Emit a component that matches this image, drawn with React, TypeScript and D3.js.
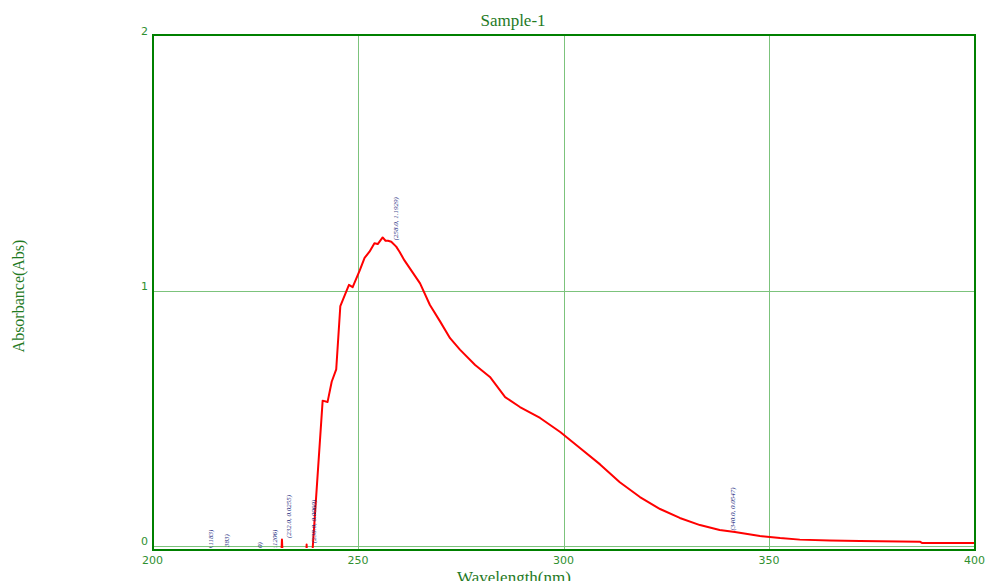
import React from "react";
import * as d3 from "d3";

const wavelength = [200, 231.3, 231.5, 231.7, 237.4, 237.5, 237.6, 238.8, 241.4, 242.6, 243.6, 244.7, 245.7, 247.8, 248.7, 250.4, 251.6, 252.8, 254.0, 254.8, 256.0, 256.7, 257.3, 258.1, 259.3, 260.1, 261.3, 263.2, 265.1, 267.5, 270.0, 272.4, 274.8, 278.5, 282.1, 285.8, 289.4, 294.3, 299.2, 304.0, 308.9, 313.7, 318.6, 323.5, 328.3, 333.2, 338.0, 341.7, 347.8, 352.7, 357.5, 364.8, 372.1, 386.7, 387.2, 400];
const absorbance = [-0.05, -0.05, 0.0255, -0.05, -0.05, 0.006, -0.05, -0.05, 0.57, 0.565, 0.644, 0.693, 0.941, 1.024, 1.015, 1.08, 1.13, 1.154, 1.187, 1.184, 1.21, 1.197, 1.197, 1.193, 1.174, 1.154, 1.12, 1.075, 1.03, 0.945, 0.88, 0.815, 0.77, 0.71, 0.663, 0.584, 0.545, 0.502, 0.447, 0.384, 0.32, 0.25, 0.192, 0.145, 0.11, 0.082, 0.063, 0.055, 0.039, 0.031, 0.025, 0.022, 0.02, 0.017, 0.012, 0.012];

const peakNm = [213.0, 217.0, 225.0, 228.5, 232.0, 238.0, 258.0, 340.0];
const peakVal = [-0.1183, -0.1383, -0.169, -0.1206, 0.0255, 0.006, 1.1929, 0.0547];
const peakText = ["(213.0, -0.1183)", "(217.0, -0.1383)", "(225.0, -0.1690)", "(228.5, -0.1206)", "(232.0, 0.0255)", "(238.0, 0.0060)", "(258.0, 1.1929)", "(340.0, 0.0547)"];

const xTicks = [200, 250, 300, 350, 400];
const yTicks = [0, 1, 2];
const xGrid = [250, 300, 350];
const yGrid = [0, 1];

const W = 987;
const H = 581;

export default function App() {
  const x = d3.scaleLinear().domain([200, 400]).range([152.5, 974.5]);
  const y = d3.scaleLinear().domain([0, 2]).range([546, 36]);
  const line = d3
    .line<number>()
    .x((_, i) => x(wavelength[i]))
    .y((d) => y(d));
  const frameGreen = "#008000";
  const textGreen = "#2f8f2f";
  const gridGreen = "#7cc37c";
  return (
    <svg
      width={W}
      height={H}
      style={{ position: "absolute", left: 0, top: 0, background: "#fff" }}
    >
      <defs>
        <clipPath id="plotClip">
          <rect x={153} y={36} width={822} height={512} />
        </clipPath>
      </defs>
      <rect x={0} y={0} width={W} height={H} fill="#fff" />
      <g>
        {xGrid.map((v) => (
          <line
            key={"xg" + v}
            x1={Math.round(x(v)) + 0.5}
            x2={Math.round(x(v)) + 0.5}
            y1={36}
            y2={550}
            stroke={gridGreen}
            strokeWidth={1}
          />
        ))}
        {yGrid.map((v) => (
          <line
            key={"yg" + v}
            x1={153}
            x2={975}
            y1={Math.round(y(v)) + 0.5}
            y2={Math.round(y(v)) + 0.5}
            stroke={gridGreen}
            strokeWidth={1}
          />
        ))}
      </g>
      <g clipPath="url(#plotClip)">
        <path d={line(absorbance) || ""} fill="none" stroke="#ff0000" strokeWidth={2} strokeLinejoin="round" />
        {peakNm.map((nm, i) => (
          <text
            key={"pk" + i}
            transform={`translate(${x(nm) + 7},${y(peakVal[i]) - 1.5}) rotate(-90)`}
            fontFamily="'Liberation Serif', serif"
            fontStyle="italic"
            fontSize={7}
            fill="#1c2a80"
          >
            {peakText[i]}
          </text>
        ))}
      </g>
      <rect x={153} y={35} width={822} height={515} fill="none" stroke={frameGreen} strokeWidth={2} />
      {yTicks.map((v) => (
        <text
          key={"yt" + v}
          x={148}
          y={y(v) - 1}
          textAnchor="end"
          fontFamily="'DejaVu Sans', sans-serif"
          fontSize={11}
          fill={textGreen}
        >
          {v}
        </text>
      ))}
      {xTicks.map((v) => (
        <text
          key={"xt" + v}
          x={x(v)}
          y={564}
          textAnchor="middle"
          fontFamily="'DejaVu Sans', sans-serif"
          fontSize={11}
          fill={textGreen}
        >
          {v}
        </text>
      ))}
      <text
        x={513}
        y={26}
        textAnchor="middle"
        fontFamily="'Liberation Serif', serif"
        fontSize={17}
        fill="#1f7a1f"
      >
        Sample-1
      </text>
      <text
        x={514}
        y={583}
        textAnchor="middle"
        fontFamily="'Liberation Serif', serif"
        fontSize={17}
        fill="#1f7a1f"
      >
        Wavelength(nm)
      </text>
      <text
        transform="translate(24,296) rotate(-90)"
        textAnchor="middle"
        fontFamily="'Liberation Serif', serif"
        fontSize={16}
        fill="#1f7a1f"
      >
        Absorbance(Abs)
      </text>
    </svg>
  );
}
